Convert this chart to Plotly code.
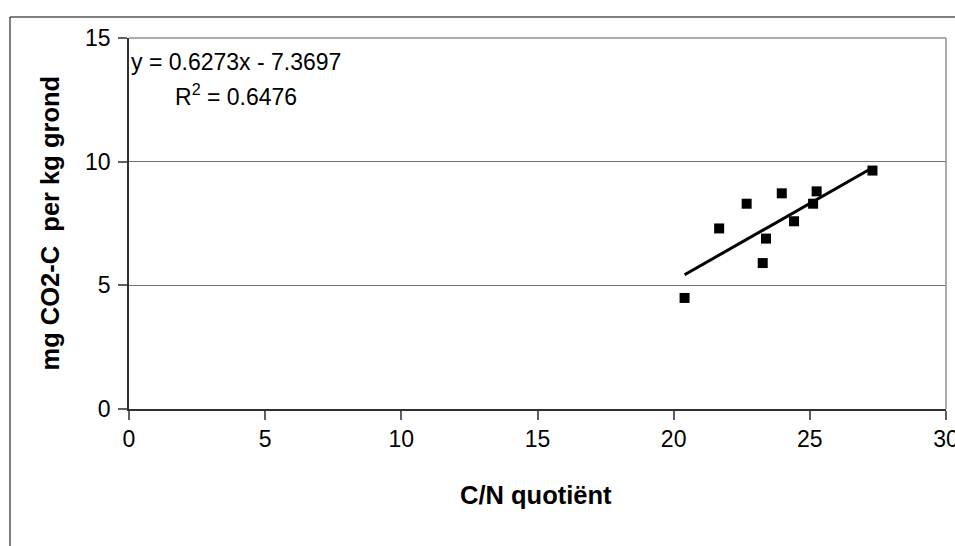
import plotly.graph_objects as go

# C/N ratio of the soil samples and the measured CO2-C release
cn_ratio = [20.40, 21.67, 22.68, 23.27, 23.39, 23.97, 24.42, 25.12, 25.25, 27.30]
co2_c = [4.49, 7.30, 8.30, 5.90, 6.89, 8.72, 7.59, 8.30, 8.80, 9.64]

# linear trend line as reported in the equation label
slope = 0.6273
intercept = -7.3697
r_squared = 0.6476

x_ticks = [0, 5, 10, 15, 20, 25, 30]
y_ticks = [0, 5, 10, 15]

FONT = "Liberation Sans, Arial, sans-serif"

trend_x = [min(cn_ratio), max(cn_ratio)]
trend_y = [slope * v + intercept for v in trend_x]

fig = go.Figure()
fig.add_trace(go.Scatter(
    x=trend_x, y=trend_y, mode="lines",
    line=dict(color="black", width=3), hoverinfo="skip", showlegend=False,
))
fig.add_trace(go.Scatter(
    x=cn_ratio, y=co2_c, mode="markers",
    marker=dict(symbol="square", size=10, color="black"),
    showlegend=False,
))

fig.update_layout(
    width=955, height=546,
    margin=dict(l=129, r=9, t=38, b=137, autoexpand=False),
    paper_bgcolor="white", plot_bgcolor="white",
    font=dict(family=FONT, size=23, color="black"),
    xaxis=dict(
        range=[0, 30], tickvals=x_ticks, ticktext=[str(v) for v in x_ticks],
        showgrid=False, zeroline=False, automargin=False,
        showline=True, linecolor="#303030", linewidth=1.5,
        ticks="outside", ticklen=9, tickcolor="#606060", tickwidth=1.5,
        tickfont=dict(size=23), ticklabeloverflow="allow", fixedrange=True,
    ),
    yaxis=dict(
        range=[0, 15], tickvals=y_ticks, ticktext=[str(v) for v in y_ticks],
        showgrid=True, gridcolor="#707070", gridwidth=1.2, zeroline=False,
        automargin=False,
        showline=True, linecolor="#303030", linewidth=1.5,
        ticks="outside", ticklen=9, tickcolor="#606060", tickwidth=1.5,
        tickfont=dict(size=23), ticklabelstandoff=3, fixedrange=True,
    ),
    shapes=[
        # plot area border (top and right)
        dict(type="line", xref="paper", yref="paper", x0=0, x1=1, y0=1, y1=1,
             line=dict(color="#909090", width=1.5)),
        dict(type="line", xref="paper", yref="paper", x0=1, x1=1, y0=0, y1=1,
             line=dict(color="#909090", width=1.5)),
        # outer chart frame
        dict(type="line", xref="paper", yref="paper",
             x0=-119 / 817, x1=1.2, y0=392 / 371, y1=392 / 371,
             line=dict(color="black", width=1)),
        dict(type="line", xref="paper", yref="paper",
             x0=-119 / 817, x1=-119 / 817, y0=392 / 371, y1=-0.5,
             line=dict(color="black", width=1)),
    ],
    annotations=[
        dict(text=f"y = {slope:.4f}x - {abs(intercept):.4f}", xref="paper", yref="paper",
             x=107 / 817, y=(409 - 62) / 371, xanchor="center", yanchor="middle",
             showarrow=False, font=dict(size=23)),
        dict(text=f"R<sup>2</sup> = {r_squared:.4f}", xref="paper", yref="paper",
             x=107 / 817, y=(409 - 95) / 371, xanchor="center", yanchor="middle",
             showarrow=False, font=dict(size=23)),
        dict(text="<b>C/N quotiënt</b>", xref="paper", yref="paper",
             x=407 / 817, y=(409 - 495) / 371, xanchor="center", yanchor="middle",
             showarrow=False, font=dict(size=25.5)),
        dict(text="<b>mg CO2-C\u00a0 per kg grond</b>", xref="paper", yref="paper",
             x=(49 - 129) / 817, y=0.5, xanchor="center", yanchor="middle",
             textangle=-90, showarrow=False, font=dict(size=25.5)),
    ],
)

fig.write_html("out.html")
